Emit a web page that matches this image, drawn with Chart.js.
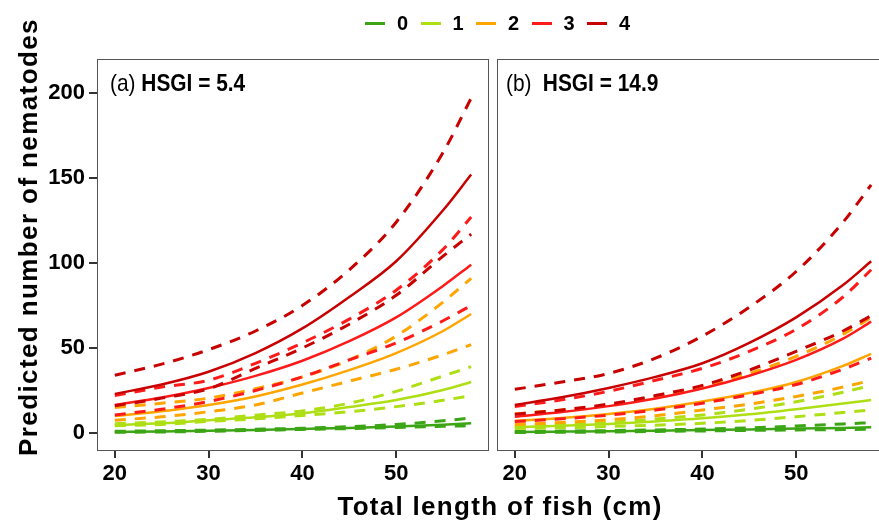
<!DOCTYPE html>
<html>
<head>
<meta charset="utf-8">
<script src="https://cdn.jsdelivr.net/npm/chart.js@4.4.1/dist/chart.umd.min.js"></script>
<style>
html,body{margin:0;padding:0;background:#fff;}
body{width:879px;height:523px;overflow:hidden;position:relative;font-family:"Liberation Sans",Arial,sans-serif;color:#000;}
canvas{position:absolute;top:0;}
#chartA{left:0;}
#chartB{left:490px;}
.lbl{position:absolute;font-family:"Liberation Sans Narrow","Liberation Sans",sans-serif;font-size:24px;line-height:24px;white-space:nowrap;transform:scaleX(0.87);transform-origin:0 0;}
.lbl b{font-weight:bold;}
.item{position:absolute;top:12px;height:22px;display:flex;align-items:center;font-weight:bold;font-size:20px;}
.sw{display:inline-block;width:20px;height:3px;}
.lt{margin-left:12px;}
#ytitle{position:absolute;left:-222px;top:222px;width:500px;height:30px;line-height:30px;text-align:center;font-weight:bold;font-size:26px;letter-spacing:1.4px;transform:rotate(-90deg);white-space:nowrap;}
#xtitle{position:absolute;left:0;top:491px;width:1000px;line-height:30px;text-align:center;font-weight:bold;font-size:26px;letter-spacing:1.3px;white-space:nowrap;}
</style>
</head>
<body>
<canvas id="chartA" width="490" height="523"></canvas>
<canvas id="chartB" width="400" height="523"></canvas>
<div id="legend"></div>
<div class="lbl" style="left:110px;top:71px;"><span>(a)</span> <b>HSGI = 5.4</b></div>
<div class="lbl" style="left:506px;top:71px;"><span>(b)</span><b style="margin-left:13px;">HSGI = 14.9</b></div>
<div id="ytitle">Predicted number of nematodes</div>
<div id="xtitle">Total length of fish (cm)</div>
<script>
const categories = ["0", "1", "2", "3", "4"];
const colors = ["#3ca515", "#aede14", "#ffa500", "#ff1a1a", "#c80000"];

const lengths = [20, 25, 30, 35, 40, 45, 50, 55, 58];
const xTicks = [20, 30, 40, 50];
const yTicks = [0, 50, 100, 150, 200];

// panel (a) HSGI = 5.4, one row per category
const aMean = [
[0.6, 0.9, 1.3, 1.8, 2.4, 3.0, 3.8, 4.9, 5.7],
[4.7, 5.7, 7.5, 9.2, 11.6, 15.3, 19.4, 25.3, 30],
[10, 12.8, 16.5, 21.5, 28.5, 37, 47, 60, 70],
[16.5, 20.9, 26.5, 33.6, 42.5, 54, 68, 86.5, 99],
[23, 28.5, 36, 47, 61.5, 80, 101, 131, 152]
];
const aLow = [
[0.4, 0.6, 1.0, 1.5, 2.1, 2.6, 3.2, 3.9, 4.3],
[4.2, 5.0, 6.8, 8.3, 10.3, 12.5, 15.5, 19.2, 22],
[7.5, 9.5, 12.5, 16.5, 23.5, 30.5, 37.5, 46, 52],
[10.6, 14, 18.5, 25, 33, 43, 53, 66, 75],
[16, 20.5, 26, 38, 50, 64, 81, 104, 117]
];
const aHigh = [
[1.0, 1.3, 1.7, 2.2, 2.8, 3.7, 5.0, 7.2, 8.8],
[5.5, 6.5, 8.0, 10.5, 13, 17.5, 24.5, 33.5, 39],
[15, 17.5, 20.5, 26, 33, 43, 57, 77, 91],
[22, 27, 31, 41, 53, 67, 84, 108, 127],
[34, 40.5, 49, 60, 75, 96, 124, 165, 197]
];

// panel (b) HSGI = 14.9
const bMean = [
[0.6, 0.8, 1.0, 1.3, 1.7, 2.1, 2.6, 3.0, 3.3],
[3.3, 4.2, 5.3, 6.8, 8.6, 11, 14, 17.3, 19.4],
[7, 8.8, 11.2, 14.3, 18.5, 23.5, 30, 39.5, 46.5],
[9.6, 12.3, 15.8, 20.3, 26.2, 33.7, 43, 55.5, 65.5],
[16.5, 21, 26.5, 33, 41, 53, 68, 87, 101]
];
const bLow = [
[0.3, 0.4, 0.6, 0.9, 1.2, 1.5, 1.8, 2.0, 2.2],
[2.6, 3.1, 3.8, 4.6, 5.7, 7.4, 9.6, 12, 13.5],
[5, 6.2, 7.8, 10.2, 13.5, 17, 21.5, 27, 31],
[6.7, 8.3, 10.5, 13.5, 17.5, 22.5, 28.5, 37.5, 44],
[11, 13.5, 17, 22, 28, 37, 48, 60, 69]
];
const bHigh = [
[0.9, 1.1, 1.4, 1.8, 2.3, 3.0, 4.1, 5.3, 6.1],
[4, 5, 6.3, 8.2, 10.6, 14, 18.4, 24, 28],
[11.2, 13.5, 16.5, 21, 27, 35, 45, 58, 68],
[15.5, 19.5, 24.5, 31, 38, 48, 61, 80, 96],
[25.7, 30, 35, 44, 57, 74, 95, 124, 146]
];

const legend = document.getElementById("legend");
categories.forEach((c, i) => {
const item = document.createElement("div");
item.className = "item";
item.style.left = (365 + i * 55.5) + "px";
item.innerHTML = '<span class="sw" style="background:' + colors[i] + '"></span><span class="lt">' + c + '</span>';
legend.appendChild(item);
});

function line(vals, color, dashed){
return {
data: lengths.map((x, i) => ({x: x, y: vals[i]})),
borderColor: color,
borderWidth: dashed ? 3 : 2.5,
borderDash: dashed ? [11, 9] : [],
cubicInterpolationMode: "monotone",
pointRadius: 0,
fill: false
};
}

function makeSets(mean, low, high){
const sets = [];
// dataset 0 is drawn on top, so the darkest group goes first
for(let k = categories.length - 1; k >= 0; k--){
sets.push(line(high[k], colors[k], true));
sets.push(line(low[k], colors[k], true));
sets.push(line(mean[k], colors[k], false));
}
return sets;
}

const boxPlugin = {
id: "box",
afterDraw(chart){
const a = chart.chartArea;
const ctx = chart.ctx;
ctx.save();
ctx.strokeStyle = "#555";
ctx.lineWidth = 1;
ctx.strokeRect(Math.round(a.left) + 0.5, Math.round(a.top) + 0.5,
Math.round(a.right - a.left) - 1, Math.round(a.bottom - a.top) - 1);
ctx.restore();
}
};

const tickFont = {family: "Liberation Sans", size: 22, weight: "bold"};

function panelOptions(showY, padLeft){
return {
responsive: false,
animation: false,
layout: {padding: {left: padLeft, right: 1, top: 59, bottom: 32}},
plugins: {legend: {display: false}, tooltip: {enabled: false}},
scales: {
x: {
type: "linear",
min: 18.1,
max: 59.9,
afterBuildTicks: (s) => { s.ticks = xTicks.map(v => ({value: v})); },
afterFit: (s) => { s.height = 40; },
grid: {drawOnChartArea: false, drawTicks: true, tickLength: 7, color: "#333", lineWidth: 2},
border: {display: false},
ticks: {color: "#000", padding: 3, maxRotation: 0, font: tickFont}
},
y: {
display: showY,
min: -10.6,
max: 220,
afterBuildTicks: (s) => { s.ticks = yTicks.map(v => ({value: v})); },
afterFit: (s) => { s.width = showY ? 60 : 0; },
grid: {drawOnChartArea: false, drawTicks: true, tickLength: 8, color: "#333", lineWidth: 2},
border: {display: false},
ticks: {color: "#000", padding: 4, font: tickFont}
}
}
};
}

const chartA = new Chart(
document.getElementById("chartA"),
{
type: "line",
data: {datasets: makeSets(aMean, aLow, aHigh)},
options: panelOptions(true, 37),
plugins: [boxPlugin]
}
);

const chartB = new Chart(
document.getElementById("chartB"),
{
type: "line",
data: {datasets: makeSets(bMean, bLow, bHigh)},
options: panelOptions(false, 7),
plugins: [boxPlugin]
}
);
</script>
</body>
</html>
